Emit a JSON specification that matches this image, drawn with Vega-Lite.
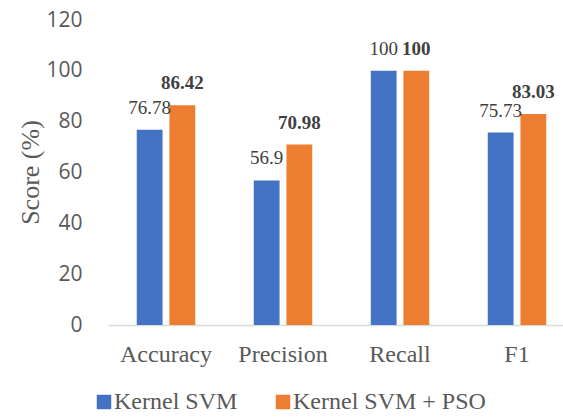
{
  "$schema": "https://vega.github.io/schema/vega-lite/v6.json",
  "width": 455,
  "height": 305,
  "autosize": {"type": "none"},
  "padding": {"left": 108, "top": 20, "right": 0, "bottom": 93},
  "background": "white",
  "config": {"view": {"stroke": null}, "font": "Liberation Serif"},
  "data": {
    "values": [
      {"metric": "Accuracy", "model": "Kernel SVM", "score": 76.78},
      {"metric": "Accuracy", "model": "Kernel SVM + PSO", "score": 86.42},
      {"metric": "Precision", "model": "Kernel SVM", "score": 56.9},
      {"metric": "Precision", "model": "Kernel SVM + PSO", "score": 70.98},
      {"metric": "Recall", "model": "Kernel SVM", "score": 100},
      {"metric": "Recall", "model": "Kernel SVM + PSO", "score": 100},
      {"metric": "F1", "model": "Kernel SVM", "score": 75.73},
      {"metric": "F1", "model": "Kernel SVM + PSO", "score": 83.03}
    ]
  },
  "encoding": {
    "x": {
      "field": "metric",
      "type": "nominal",
      "sort": ["Accuracy", "Precision", "Recall", "F1"],
      "scale": {"paddingInner": 0.5, "paddingOuter": 0.1944, "align": 0.632},
      "axis": {
        "title": null,
        "labelAngle": 0,
        "labelFont": "Liberation Serif",
        "labelFontSize": 24,
        "labelColor": "#595959",
        "ticks": false,
        "tickSize": 0,
        "labelPadding": 17,
        "domainColor": "#d9d9d9",
        "domainWidth": 1.5
      }
    },
    "xOffset": {
      "field": "model",
      "type": "nominal",
      "sort": ["Kernel SVM", "Kernel SVM + PSO"],
      "scale": {"paddingInner": 0.21}
    },
    "y": {
      "field": "score",
      "type": "quantitative",
      "scale": {"domain": [0, 120]},
      "axis": {
        "title": "Score (%)",
        "values": [0, 20, 40, 60, 80, 100, 120],
        "grid": false,
        "domain": false,
        "ticks": false,
        "tickSize": 0,
        "labelPadding": 26,
        "labelFont": "Open Sans",
        "labelFontSize": 21,
        "labelColor": "#595959",
        "titleFont": "Liberation Serif",
        "titleFontSize": 26,
        "titleFontWeight": "normal",
        "titleColor": "#595959",
        "titleX": -78,
        "titleY": 152,
        "titleAngle": -90,
        "titleAlign": "center",
        "titleBaseline": "middle"
      }
    }
  },
  "layer": [
    {
      "mark": {"type": "bar"},
      "encoding": {
        "color": {
          "field": "model",
          "type": "nominal",
          "sort": ["Kernel SVM", "Kernel SVM + PSO"],
          "scale": {"domain": ["Kernel SVM", "Kernel SVM + PSO"], "range": ["#4472C4", "#ED7D31"]},
          "legend": {
            "title": null,
            "orient": "none",
            "legendX": -16,
            "legendY": 370,
            "direction": "horizontal",
            "symbolType": "square",
            "symbolSize": 210,
            "symbolStrokeWidth": 0,
            "labelFont": "Liberation Serif",
            "labelFontSize": 24,
            "labelColor": "#595959",
            "labelOffset": -2,
            "columnPadding": 33,
            "labelLimit": 400
          }
        }
      }
    },
    {
      "transform": [{"filter": "datum.model === 'Kernel SVM'"}],
      "mark": {"type": "text", "dy": -16, "baseline": "alphabetic", "font": "Liberation Serif", "fontSize": 19, "color": "#404040"},
      "encoding": {"text": {"field": "score", "type": "quantitative"}}
    },
    {
      "transform": [{"filter": "datum.model === 'Kernel SVM + PSO'"}],
      "mark": {"type": "text", "dy": -16, "baseline": "alphabetic", "font": "Liberation Serif", "fontSize": 19, "fontWeight": "bold", "color": "#404040"},
      "encoding": {"text": {"field": "score", "type": "quantitative"}}
    }
  ]
}
